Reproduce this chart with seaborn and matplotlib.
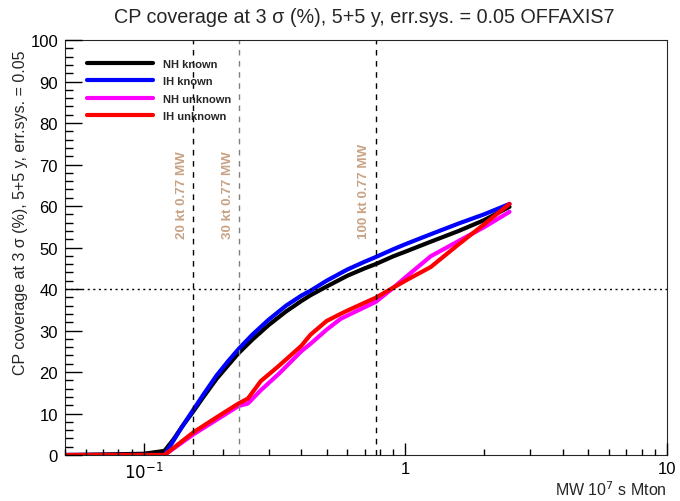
import seaborn as sns
import matplotlib.pyplot as plt
import matplotlib.ticker as mticker
import pandas as pd
import numpy as np

# exposure grids (MW 10^7 s Mton)
known_x = [0.05, 0.1, 0.12, 0.13, 0.14, 0.155, 0.17, 0.19, 0.21, 0.23, 0.26,
           0.3, 0.35, 0.4, 0.434, 0.5, 0.6, 0.7, 0.77, 0.9, 1.0, 1.25, 1.6,
           2.0, 2.5]
unknown_x = [0.05, 0.1, 0.12, 0.155, 0.19, 0.23, 0.25, 0.28, 0.33, 0.4, 0.434,
             0.5, 0.565, 0.6, 0.77, 0.88, 1.0, 1.25, 1.6, 2.0, 2.5]

# CP coverage (%)
nh_known = [0, 0.3, 1.0, 3.8, 6.8, 10.6, 14.2, 18.4, 21.6, 24.5, 27.8,
            31.3, 34.6, 37.1, 38.5, 40.6, 43.2, 45.0, 46.0, 47.9, 49.0,
            51.4, 54.0, 56.6, 59.8]
ih_known = [0, 0, 0, 3.5, 6.8, 11.0, 14.8, 19.2, 22.6, 25.5, 29.0,
            32.6, 36.0, 38.4, 39.6, 42.0, 44.7, 46.6, 47.7, 49.6, 50.8,
            53.2, 55.8, 58.0, 60.5]
nh_unknown = [0, 0, 0, 5.0, 8.5, 11.8, 12.4, 15.6, 19.7, 25.0, 26.8,
              30.2, 32.8, 33.6, 36.9, 39.8, 42.8, 47.9, 51.6, 54.9, 58.6]
ih_unknown = [0, 0, 0, 5.5, 9.1, 12.4, 13.6, 17.8, 21.6, 26.3, 29.0,
              32.3, 34.0, 34.8, 37.9, 40.0, 42.0, 45.3, 50.8, 55.6, 60.5]

series_names = ['NH known', 'IH known', 'NH unknown', 'IH unknown']
series_colors = ['#000000', '#0000ff', '#ff00ff', '#ff0000']

# reference detector masses (kt) at 0.77 MW
detector_kt = [20, 30, 100]
beam_mw = 0.77
vline_colors = ['black', 'gray', 'black']

xtick_vals = [0.1, 1, 10]
xtick_labels = ['$10^{-1}$', '1', '10']

xs = [known_x, known_x, unknown_x, unknown_x]
ys = [nh_known, ih_known, nh_unknown, ih_unknown]
df = pd.concat([pd.DataFrame({'exposure': x, 'coverage': y, 'case': n})
                for x, y, n in zip(xs, ys, series_names)], ignore_index=True)

sns.set_style('ticks')
plt.rcParams['font.family'] = ['Liberation Sans', 'DejaVu Sans']

fig = plt.figure(figsize=(6.8, 5.02), dpi=100)
ax = fig.add_axes([0.0956, 0.0916, 0.8853, 0.8267])

sns.lineplot(data=df, x='exposure', y='coverage', hue='case',
             hue_order=series_names, palette=dict(zip(series_names, series_colors)),
             linewidth=3, sort=False, legend=False, ax=ax)
curves = ax.lines[:4]

ax.set_xscale('log')
ax.set_xlim(0.05, 10)
ax.set_ylim(0, 100)
ax.set_axisbelow(False)

# vertical reference lines with labels
for kt, c in zip(detector_kt, vline_colors):
    xv = kt * beam_mw / 100
    ax.axvline(xv, color=c, linestyle=(0, (4, 4)), linewidth=1)
    ax.text(xv * 0.955, 52.3, f'{kt} kt {beam_mw} MW', rotation=90,
            ha='right', va='bottom', color='#c9a284', fontsize=9.6,
            fontweight='bold')

ax.axhline(40, color='black', linestyle=(0, (1.5, 2.5)), linewidth=1)

ax.legend(curves, series_names, loc='upper left',
          bbox_to_anchor=(0.037, 0.955), frameon=False, borderpad=0,
          borderaxespad=0, handlelength=5.9, handletextpad=0.9,
          labelspacing=0.68, prop={'weight': 'bold', 'size': 8})

ax.set_xlabel('MW 10$^{7}$ s Mton', fontsize=11.5, loc='right')
ax.xaxis.set_label_coords(1.0, -0.058)
ax.set_ylabel('CP coverage at 3 σ (%), 5+5 y, err.sys. = 0.05', fontsize=11.5, loc='top')
ax.yaxis.set_label_coords(-0.061, 0.978)

fig.suptitle('CP coverage at 3 σ (%), 5+5 y, err.sys. = 0.05 OFFAXIS7',
             x=0.535, y=0.985, va='top', fontsize=14.2)

# ticks ROOT style
ax.yaxis.set_major_locator(mticker.MultipleLocator(10))
ax.yaxis.set_minor_locator(mticker.AutoMinorLocator(5))
ax.xaxis.set_major_locator(mticker.FixedLocator(xtick_vals))
ax.xaxis.set_major_formatter(mticker.FixedFormatter(xtick_labels))
ax.xaxis.set_minor_locator(mticker.LogLocator(base=10, subs=np.arange(2, 10)))
ax.xaxis.set_minor_formatter(mticker.NullFormatter())
ax.tick_params(axis='y', which='major', direction='in', length=12, width=1,
               labelsize=12, pad=5, colors='black')
ax.tick_params(axis='y', which='minor', direction='in', length=6, width=1, colors='black')
ax.tick_params(axis='x', which='major', direction='in', length=9, width=1,
               labelsize=12, pad=4, colors='black')
ax.tick_params(axis='x', which='minor', direction='in', length=4.5, width=1, colors='black')

fig.savefig('out.png', dpi=100)
